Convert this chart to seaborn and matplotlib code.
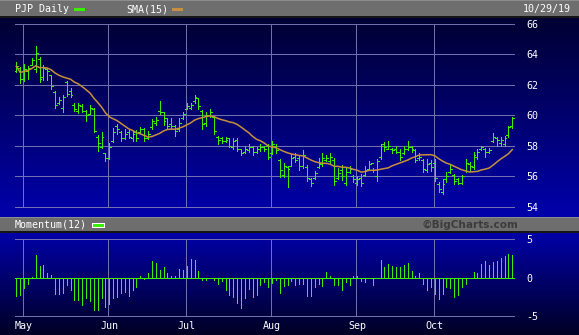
import numpy as np
import pandas as pd
import matplotlib
matplotlib.use("Agg")
import matplotlib.pyplot as plt
import seaborn as sns
from matplotlib.patches import Rectangle

# ---------------- data ----------------
high = [63.48, 63.16, 63.35, 63.20, 63.74, 64.54, 63.80, 63.31, 63.10, 62.66,
        61.58, 61.20, 61.32, 62.27, 61.75, 60.78, 60.83, 60.72, 60.35, 60.68,
        60.46, 58.71, 58.88, 57.52, 58.17, 59.14, 59.42, 58.95, 59.10, 59.05,
        58.95, 59.03, 59.25, 59.14, 58.95, 59.75, 59.90, 60.93, 60.24, 59.85,
        59.85, 59.38, 59.80, 60.24, 60.77, 60.82, 61.35, 61.14, 60.34, 60.19,
        60.39, 59.96, 58.67, 58.58, 58.58, 58.52, 58.52, 58.52, 57.80, 57.98,
        58.15, 57.98, 57.91, 58.09, 57.98, 58.15, 58.34, 58.09, 57.16, 56.90,
        56.65, 57.44, 57.50, 57.33, 57.72, 56.73, 55.87, 56.37, 57.23, 57.50,
        57.38, 57.50, 57.18, 56.52, 56.73, 56.62, 56.69, 56.09, 56.04, 56.15,
        56.65, 57.01, 56.58, 57.16, 58.15, 58.24, 58.34, 57.87, 57.98, 57.80,
        58.02, 58.30, 58.02, 57.80, 57.55, 57.16, 57.12, 57.08, 57.12, 55.61,
        55.83, 56.30, 56.80, 56.15, 55.87, 56.09, 57.16, 56.95, 57.59, 57.80,
        58.02, 57.87, 57.87, 58.84, 58.58, 58.58, 58.67, 59.31, 59.91]
low = [62.83, 62.12, 62.23, 62.34, 63.27, 62.83, 62.16, 62.30, 62.30, 61.73,
       60.46, 60.76, 60.22, 61.26, 61.19, 60.28, 60.16, 60.22, 59.64, 60.07,
       58.92, 57.69, 57.87, 57.00, 57.15, 58.23, 58.77, 58.30, 58.45, 58.50,
       58.34, 58.34, 58.82, 58.34, 58.45, 59.10, 59.38, 60.11, 59.38, 59.16,
       59.10, 58.67, 59.00, 59.74, 60.39, 60.39, 60.82, 60.39, 59.10, 59.31,
       59.91, 58.80, 58.13, 58.19, 58.24, 57.91, 57.76, 57.66, 57.38, 57.50,
       57.59, 57.38, 57.50, 57.66, 57.66, 57.12, 57.44, 57.55, 55.94, 55.94,
       55.29, 56.65, 56.95, 56.43, 56.58, 55.72, 55.40, 55.83, 56.52, 56.69,
       57.01, 56.90, 55.44, 55.83, 55.79, 55.44, 56.21, 55.61, 55.44, 55.40,
       56.00, 56.43, 56.30, 55.72, 57.16, 57.66, 57.76, 57.55, 57.50, 57.08,
       57.44, 57.72, 57.59, 56.95, 57.08, 56.26, 56.26, 56.37, 55.72, 54.97,
       54.86, 55.66, 56.21, 55.50, 55.50, 55.50, 56.26, 56.37, 56.47, 57.16,
       57.72, 57.29, 57.50, 58.24, 58.02, 58.02, 58.02, 58.58, 59.16]
close = [63.2, 62.4, 63.0, 63.1, 63.6, 64.1, 62.4, 63.1, 62.9, 61.9,
         60.7, 61.0, 61.2, 61.4, 61.3, 60.4, 60.7, 60.3, 60.0, 60.5,
         59.0, 58.2, 58.6, 57.2, 57.9, 58.9, 59.1, 58.5, 58.8, 58.6,
         58.8, 58.5, 59.1, 58.5, 58.8, 59.6, 59.7, 60.2, 59.6, 59.3,
         59.3, 59.0, 59.5, 60.1, 60.6, 60.7, 61.2, 60.6, 59.4, 60.0,
         60.2, 59.0, 58.4, 58.3, 58.4, 58.0, 58.3, 57.8, 57.5, 57.8,
         57.9, 57.6, 57.8, 57.9, 57.8, 57.3, 58.1, 57.7, 56.4, 56.7,
         56.5, 57.2, 57.1, 56.7, 57.4, 55.9, 55.6, 56.2, 56.9, 57.2,
         57.2, 57.3, 55.7, 56.2, 56.0, 56.3, 56.5, 55.8, 55.8, 55.6,
         56.4, 56.8, 56.4, 57.0, 58.0, 57.9, 58.0, 57.7, 57.6, 57.3,
         57.8, 57.9, 57.8, 57.1, 57.3, 56.5, 56.8, 56.6, 55.9, 55.2,
         55.5, 56.0, 56.5, 55.7, 55.6, 56.0, 56.9, 56.7, 57.4, 57.6,
         57.9, 57.6, 57.7, 58.6, 58.4, 58.4, 58.5, 59.2, 59.8]
open_ = [62.9, 63.1, 62.4, 62.9, 63.3, 63.0, 63.7, 62.5, 63.0, 62.6,
         61.5, 60.8, 60.5, 62.2, 61.6, 60.7, 60.3, 60.6, 60.3, 60.1,
         60.4, 58.6, 57.9, 57.5, 57.2, 58.3, 59.3, 58.9, 58.5, 58.9,
         58.5, 58.9, 58.9, 59.1, 58.5, 59.2, 59.5, 60.3, 60.2, 59.8,
         59.4, 59.3, 59.1, 59.8, 60.4, 60.5, 60.9, 61.1, 60.3, 59.5,
         60.0, 59.9, 58.6, 58.5, 58.3, 58.5, 57.9, 58.4, 57.8, 57.6,
         57.7, 57.9, 57.6, 57.8, 57.9, 58.0, 57.5, 58.0, 57.1, 56.1,
         56.6, 56.7, 57.3, 57.2, 56.7, 56.6, 55.8, 55.9, 56.6, 56.8,
         57.1, 57.0, 57.1, 55.9, 56.4, 55.6, 56.3, 56.0, 55.6, 55.9,
         56.1, 56.5, 56.9, 56.0, 57.3, 58.1, 57.8, 57.8, 57.8, 57.6,
         57.5, 57.8, 57.9, 57.7, 57.2, 57.1, 56.4, 56.9, 56.9, 55.5,
         55.0, 55.8, 56.3, 56.1, 55.8, 55.6, 56.4, 56.8, 56.6, 57.3,
         57.8, 57.8, 57.6, 58.3, 58.5, 58.2, 58.1, 58.7, 59.3]
momentum = [-2.40, -2.20, -1.40, -0.77, 0.05, 2.95, 1.45, 1.67, 0.64, 0.38,
            -2.05, -2.10, -1.97, -0.98, -1.62, -2.95, -2.95, -3.55, -2.60, -3.03,
            -4.19, -4.19, -2.60, -3.80, -3.46, -2.60, -2.48, -1.97, -1.84, -2.40,
            -1.62, -1.20, 0.17, -0.20, 0.64, 2.18, 1.88, 1.03, 1.32, 0.60,
            0.17, 0.17, 1.15, 1.03, 1.54, 2.44, 2.31, 0.90, -0.34, -0.34,
            0.02, -0.34, -0.77, -0.38, -1.54, -2.26, -2.52, -3.33, -3.93, -2.60,
            -1.41, -2.52, -2.26, -0.98, -0.60, -1.20, -0.68, -0.34, -1.97, -1.11,
            -0.98, -0.47, -0.98, -0.81, -0.77, -2.40, -2.40, -1.24, -0.77, -1.11,
            0.73, 0.26, -0.98, -0.98, -1.62, -0.60, -0.98, 0.26, 0.17, -0.47,
            -0.60, 0.02, -0.98, 0.02, 2.31, 1.32, 1.80, 1.54, 1.32, 1.32,
            1.67, 1.88, 0.90, 0.26, 0.64, -0.77, -1.62, -1.20, -2.05, -2.70,
            -2.05, -1.24, -1.33, -2.52, -2.18, -1.24, -0.77, 0.02, 0.73, 0.64,
            1.80, 2.10, 1.67, 1.97, 2.10, 2.60, 2.82, 3.08, 2.95]
month_labels = ["May", "Jun", "Jul", "Aug", "Sep", "Oct"]
price_ticks = [54, 56, 58, 60, 62, 64, 66]
mom_ticks = [-5, 0, 5]
holidays = ["2019-05-27", "2019-07-04", "2019-09-02"]

dates = pd.bdate_range("2019-04-29", "2019-10-29", freq="C", holidays=holidays)
df = pd.DataFrame({"date": dates, "open": open_, "high": high, "low": low,
                   "close": close, "mom": momentum})
df["idx"] = np.arange(len(df))
df["sma"] = df["close"].rolling(15, min_periods=1).mean()
month_starts = df.groupby(df["date"].dt.to_period("M"))["idx"].first().iloc[1:].values

# ---------------- styling ----------------
plt.rcParams["font.family"] = ["DejaVu Sans Mono", "DejaVu Sans"]
W, H = 579, 335
GREEN = "#39f000"
GRID = "#7070b0"
SMA_C = "#c8903c"
GRAY = "#6e6e6e"
PX = 0.72  # one pixel in points

fig = plt.figure(figsize=(W / 100, H / 100), dpi=100)


def px_axes(x0, y0, x1, y1):
    return fig.add_axes([x0 / W, 1 - y1 / H, (x1 - x0) / W, (y1 - y0) / H])


# background gradient
bg = px_axes(0, 0, W, H)
rows = np.arange(H)
blue = np.interp(rows, [0, 17, 217, 232, 335], [60, 50, 172, 168, 36])
img = np.zeros((H, 1, 3))
img[:, 0, 2] = blue / 255.0
bg.imshow(img, aspect="auto", extent=(0, 1, 1, 0), interpolation="bilinear")
bg.set_xlim(0, 1)
bg.set_ylim(1, 0)
bg.axis("off")


def fig_rect(x0, y0, x1, y1, color, **kw):
    fig.add_artist(Rectangle((x0 / W, 1 - y1 / H), (x1 - x0) / W, (y1 - y0) / H,
                             transform=fig.transFigure, facecolor=color,
                             edgecolor="none", **kw))


def fig_text(x, y, s, **kw):
    fig.text(x / W, 1 - y / H, s, **kw)


# header bar
fig_rect(0, 0, W, 17, GRAY)
fig_rect(0, 0, W, 1, "#8c8c8c")
fig_rect(0, 16, W, 18, "#151515")
fig_text(15, 9, "PJP Daily", color="white", size=7.2, va="center", ha="left")
fig_rect(74, 8, 85, 11, GREEN)
fig_text(126, 9, "SMA(15)", color="white", size=7.2, va="center", ha="left")
fig_rect(172, 8, 183, 11, SMA_C)
fig_text(571, 9, "10/29/19", color="white", size=7.2, va="center", ha="right")

# separator bar
fig_rect(0, 217, W, 232, GRAY)
fig_rect(0, 217, W, 218, "#8c8c8c")
fig_rect(0, 231, W, 233, "#151515")
fig_text(15, 224.5, "Momentum(12)", color="white", size=7.2, va="center", ha="left")
fig_rect(92, 222.5, 105, 228, "white")
fig_rect(93, 223.5, 104, 227, GREEN)
fig_text(518, 224.5, "\u00a9BigCharts.com", color="#3c3c3c", size=7.6,
         family="DejaVu Sans", weight="bold", va="center", ha="right")

xmin = -0.335
xmax = xmin + 500 / 3.875

# ---------------- main price panel ----------------
ax = px_axes(15, 18, 515, 214)
ax.set_facecolor("none")
ax.set_xlim(xmin, xmax)
ax.set_ylim(53.54, 66.36)
for t in price_ticks:
    ax.axhline(t, color=GRID, lw=PX, zorder=1)
ax.vlines(month_starts - 0.25, 54, 66, color=GRID, lw=PX, zorder=1)

tick = 0.5
ax.vlines(df["idx"], df["low"], df["high"], color=GREEN, lw=PX, zorder=3,
          antialiased=False)
ax.hlines(df["open"], df["idx"] - tick, df["idx"], color=GREEN, lw=PX, zorder=3,
          antialiased=False)
ax.hlines(df["close"], df["idx"], df["idx"] + tick, color=GREEN, lw=PX, zorder=3,
          antialiased=False)
sns.lineplot(data=df, x="idx", y="sma", ax=ax, color=SMA_C, linewidth=1.1,
             legend=False, zorder=4)

ax.set_yticks(price_ticks)
ax.set_yticklabels([str(t) for t in price_ticks])
ax.yaxis.tick_right()
ax.tick_params(axis="y", length=0, pad=8, labelcolor="white", labelsize=7.2)
ax.set_xticks([])
ax.set_xlabel("")
ax.set_ylabel("")
for s in ax.spines.values():
    s.set_visible(False)

# ---------------- momentum panel ----------------
am = px_axes(15, 233, 515, 318)
am.set_facecolor("none")
am.set_xlim(xmin, xmax)
am.set_ylim(-5.22, 5.78)
for t in (-5, 5):
    am.axhline(t, color=GRID, lw=PX, zorder=1)
am.vlines(month_starts - 0.25, -5, 5, color=GRID, lw=PX, zorder=1)
am.vlines(df["idx"], 0, df["mom"], color=GREEN, lw=PX, zorder=3, antialiased=False)
am.axhline(0, color=GREEN, lw=PX, zorder=4)

am.set_yticks(mom_ticks)
am.set_yticklabels(["-5", "0", "5"])
am.yaxis.tick_right()
am.tick_params(axis="y", length=0, pad=8, labelcolor="white", labelsize=7.2)
am.set_xticks(month_starts)
am.set_xticklabels(month_labels)
am.tick_params(axis="x", length=0, pad=2.5, labelcolor="white", labelsize=7.2)
for s in am.spines.values():
    s.set_visible(False)

fig.savefig("out.png", dpi=100)
